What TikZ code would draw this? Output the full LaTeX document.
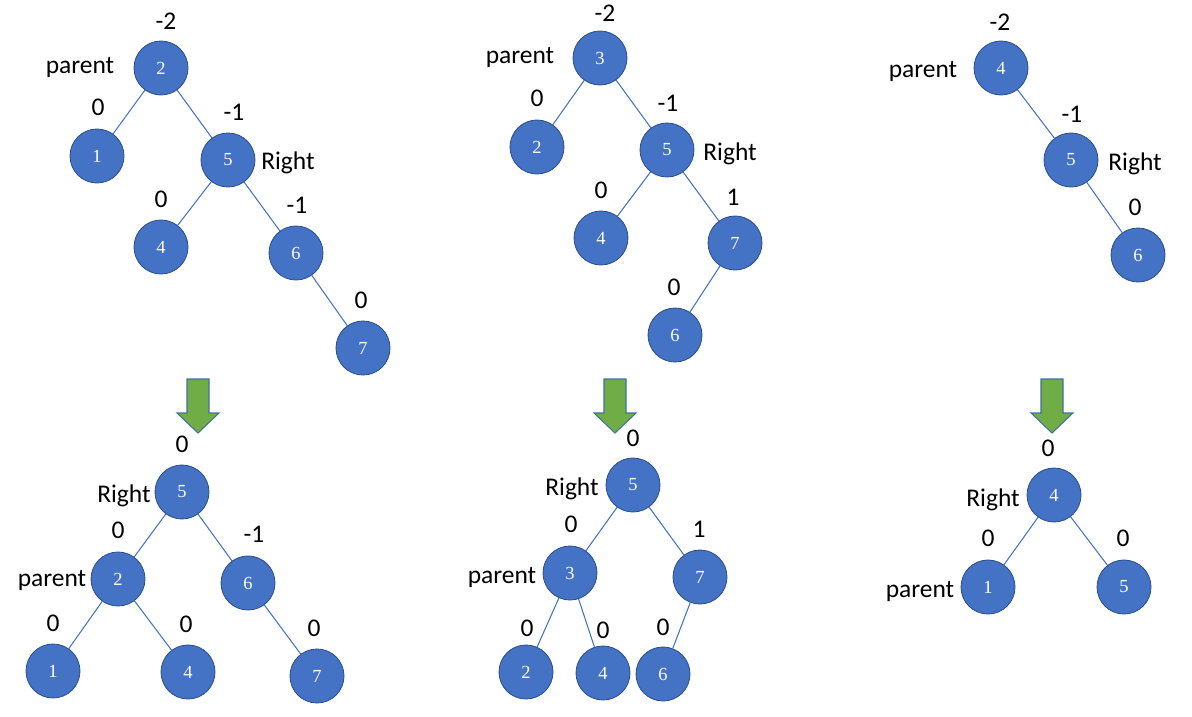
\documentclass[tikz,border=0pt]{standalone}
\usepackage{fontspec}
\setmainfont{Carlito}
\newfontfamily\numfont{Liberation Serif}
\usetikzlibrary{positioning}
\definecolor{nodeblue}{HTML}{4472C4}
\definecolor{nodeedge}{HTML}{2F528F}
\definecolor{arrowgreen}{HTML}{70AD47}
\definecolor{arrowedge}{HTML}{41719C}

\begin{document}
\begin{tikzpicture}[
  x=0.02cm, y=-0.02cm,
  every node/.style={font=\fontsize{14.5}{16}\selectfont, inner sep=0pt},
  tag/.style={yshift=-2pt},
  vtx/.style={circle, fill=nodeblue, draw=nodeedge, line width=0.5pt, minimum size=1.08cm, text=white, font=\numfont\fontsize{10.5}{12}\selectfont},
  link/.style={draw=nodeblue, line width=0.6pt},
  downarrow/.style={fill=arrowgreen, draw=arrowedge, line width=0.6pt}
]
\useasboundingbox (0,0) rectangle (1192,716);

% top left
\node[vtx] (ta2) at (161,68) {2};
\node[vtx] (ta1) at (97,156) {1};
\node[vtx] (ta5) at (228,160) {5};
\node[vtx] (ta4) at (161,247) {4};
\node[vtx] (ta6) at (296,253) {6};
\node[vtx] (ta7) at (363,348) {7};
\node (ta2bal) at (166,21) {-2};
\node (ta1bal) at (98,107) {0};
\node (ta5bal) at (234,112) {-1};
\node (ta4bal) at (161,199) {0};
\node (ta6bal) at (297,205) {-1};
\node (ta7bal) at (361,300) {0};
\node[tag] (taparent) at (80,64) {parent};
\node[tag] (taright) at (288,159) {Right};
\draw[link] (ta2) -- (ta1);
\draw[link] (ta2) -- (ta5);
\draw[link] (ta5) -- (ta4);
\draw[link] (ta5) -- (ta6);
\draw[link] (ta6) -- (ta7);

% top middle
\node[vtx] (tb3) at (600,58) {3};
\node[vtx] (tb2) at (537,147) {2};
\node[vtx] (tb5) at (667,150) {5};
\node[vtx] (tb4) at (601,238) {4};
\node[vtx] (tb7) at (735,243) {7};
\node[vtx] (tb6) at (675,335) {6};
\node (tb3bal) at (605,13) {-2};
\node (tb2bal) at (537,98) {0};
\node (tb5bal) at (668,103) {-1};
\node (tb4bal) at (601,190) {0};
\node (tb7bal) at (733,197) {1};
\node (tb6bal) at (674,287) {0};
\node[tag] (tbparent) at (520,54) {parent};
\node[tag] (tbright) at (730,150) {Right};
\draw[link] (tb3) -- (tb2);
\draw[link] (tb3) -- (tb5);
\draw[link] (tb5) -- (tb4);
\draw[link] (tb5) -- (tb7);
\draw[link] (tb7) -- (tb6);

% top right
\node[vtx] (tc4) at (1001,68) {4};
\node[vtx] (tc5) at (1071,160) {5};
\node[vtx] (tc6) at (1138,255) {6};
\node (tc4bal) at (1000,22) {-2};
\node (tc5bal) at (1072,114) {-1};
\node (tc6bal) at (1135,207) {0};
\node[tag] (tcparent) at (923,68) {parent};
\node[tag] (tcright) at (1135,160) {Right};
\draw[link] (tc4) -- (tc5);
\draw[link] (tc5) -- (tc6);

% rotation arrows
\draw[downarrow, shift={(198,379)}] (-11,0) -- (11,0) -- (11,34) -- (21,34) -- (0,54) -- (-21,34) -- (-11,34) -- cycle;
\draw[downarrow, shift={(615,379)}] (-11,0) -- (11,0) -- (11,34) -- (21,34) -- (0,54) -- (-21,34) -- (-11,34) -- cycle;
\draw[downarrow, shift={(1052,379)}] (-11,0) -- (11,0) -- (11,34) -- (21,34) -- (0,54) -- (-21,34) -- (-11,34) -- cycle;

% bottom left
\node[vtx] (ba5) at (182,492) {5};
\node[vtx] (ba2) at (118,579) {2};
\node[vtx] (ba6) at (248,583) {6};
\node[vtx] (ba1) at (53,671) {1};
\node[vtx] (ba4) at (188,672) {4};
\node[vtx] (ba7) at (317,676) {7};
\node (ba5bal) at (182,444) {0};
\node (ba2bal) at (118,530) {0};
\node (ba6bal) at (254,534) {-1};
\node (ba1bal) at (53,623) {0};
\node (ba4bal) at (186,624) {0};
\node (ba7bal) at (314,628) {0};
\node[tag] (baright) at (124,492) {Right};
\node[tag] (baparent) at (52,577) {parent};
\draw[link] (ba5) -- (ba2);
\draw[link] (ba5) -- (ba6);
\draw[link] (ba2) -- (ba1);
\draw[link] (ba2) -- (ba4);
\draw[link] (ba6) -- (ba7);

% bottom middle
\node[vtx] (bb5) at (633,485) {5};
\node[vtx] (bb3) at (570,573) {3};
\node[vtx] (bb7) at (700,577) {7};
\node[vtx] (bb2) at (526,672) {2};
\node[vtx] (bb4) at (603,673) {4};
\node[vtx] (bb6) at (663,674) {6};
\node (bb5bal) at (633,438) {0};
\node (bb3bal) at (571,524) {0};
\node (bb7bal) at (699,529) {1};
\node (bb2bal) at (527,628) {0};
\node (bb4bal) at (603,630) {0};
\node (bb6bal) at (663,627) {0};
\node[tag] (bbright) at (572,485) {Right};
\node[tag] (bbparent) at (502,574) {parent};
\draw[link] (bb5) -- (bb3);
\draw[link] (bb5) -- (bb7);
\draw[link] (bb3) -- (bb2);
\draw[link] (bb3) -- (bb4);
\draw[link] (bb7) -- (bb6);

% bottom right
\node[vtx] (bc4) at (1054,495) {4};
\node[vtx] (bc1) at (988,587) {1};
\node[vtx] (bc5) at (1124,587) {5};
\node (bc4bal) at (1048,448) {0};
\node (bc1bal) at (988,538) {0};
\node (bc5bal) at (1123,538) {0};
\node[tag] (bcright) at (993,496) {Right};
\node[tag] (bcparent) at (920,588) {parent};
\draw[link] (bc4) -- (bc1);
\draw[link] (bc4) -- (bc5);
\end{tikzpicture}
\end{document}
